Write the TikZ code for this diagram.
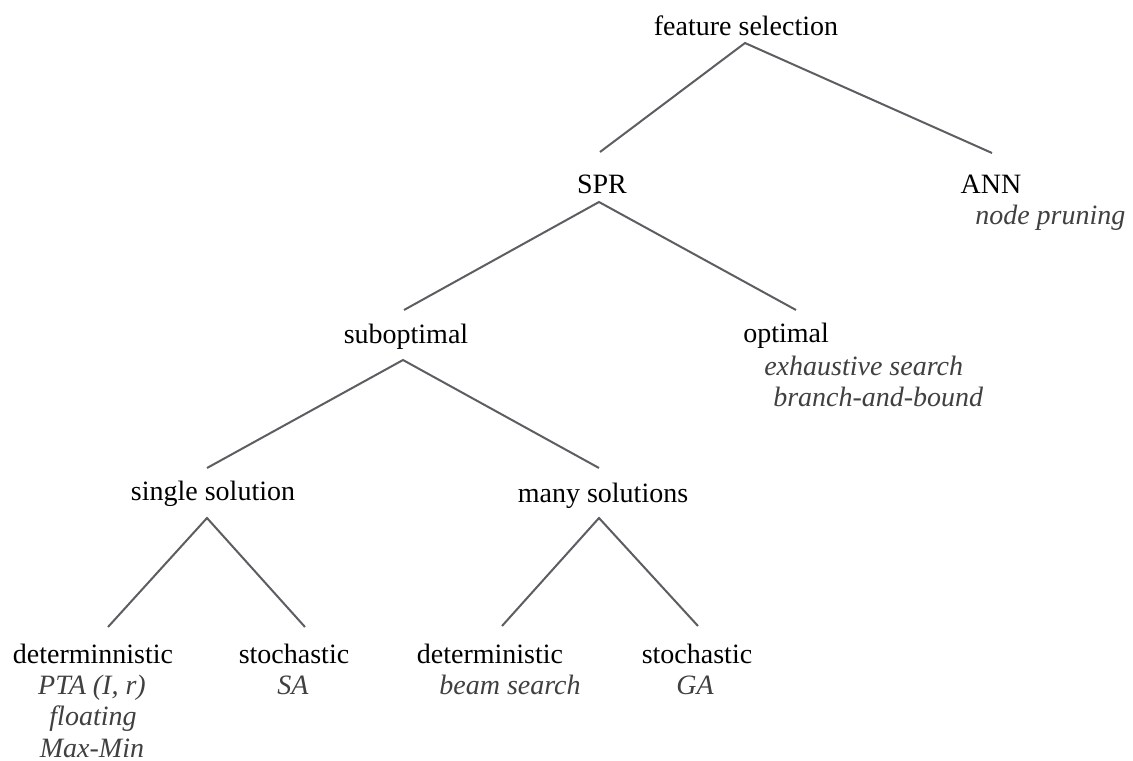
\documentclass[tikz,border=0pt]{standalone}
\usepackage{fontspec}
\setmainfont{Liberation Serif}
\definecolor{linecol}{RGB}{92,94,98}
\definecolor{itcol}{RGB}{64,64,64}
\begin{document}
\begin{tikzpicture}[x=0.75pt,y=-0.75pt,
  lbl/.style={inner sep=0pt,anchor=base,font=\fontsize{21}{25}\selectfont,text=black},
  sub/.style={inner sep=0pt,anchor=base,font=\fontsize{21}{25}\selectfont\itshape,text=itcol},
  edge/.style={draw=linecol,line width=1.5pt}]
\useasboundingbox[fill=white] (0,0) rectangle (1133,761);
% text nodes
\node[lbl] (fs) at (746,35) {feature selection};
\node[lbl] (spr) at (602,193) {SPR};
\node[lbl] (ann) at (991,193) {ANN};
\node[sub,anchor=base west] (annA) at (975,224) {node pruning};
\node[lbl] (subo) at (406,343) {suboptimal};
\node[lbl,anchor=base west] (opt) at (743,342) {optimal};
\node[sub,anchor=base west] (optA) at (764,375) {exhaustive search};
\node[sub,anchor=base west] (optB) at (773,406) {branch-and-bound};
\node[lbl] (single) at (213,500) {single solution};
\node[lbl] (many) at (603,502) {many solutions};
\node[lbl] (d1) at (93,663) {determinnistic};
\node[sub] (d1a) at (92,694) {PTA (I, r)};
\node[sub] (d1b) at (93,725) {floating};
\node[sub] (d1c) at (92,757) {Max-Min};
\node[lbl] (s1) at (294,663) {stochastic};
\node[sub] (s1a) at (293,694) {SA};
\node[lbl] (d2) at (490,663) {deterministic};
\node[sub] (d2a) at (510,694) {beam search};
\node[lbl] (s2) at (697,663) {stochastic};
\node[sub] (s2a) at (695,694) {GA};
% connector end points
\coordinate (fs-b) at (745,43);
\coordinate (spr-t) at (600,152);
\coordinate (ann-t) at (992,153);
\coordinate (spr-b) at (599,202);
\coordinate (subo-t) at (404,310);
\coordinate (opt-t) at (796,310);
\coordinate (subo-b) at (403,360);
\coordinate (single-t) at (207,468);
\coordinate (many-t) at (599,468);
\coordinate (single-b) at (207,518);
\coordinate (d1-t) at (108,627);
\coordinate (s1-t) at (305,627);
\coordinate (many-b) at (599,518);
\coordinate (d2-t) at (502,626);
\coordinate (s2-t) at (698,626);
% connectors
\draw[edge] (spr-t) -- (fs-b) -- (ann-t);
\draw[edge] (subo-t) -- (spr-b) -- (opt-t);
\draw[edge] (single-t) -- (subo-b) -- (many-t);
\draw[edge] (d1-t) -- (single-b) -- (s1-t);
\draw[edge] (d2-t) -- (many-b) -- (s2-t);
\end{tikzpicture}
\end{document}
